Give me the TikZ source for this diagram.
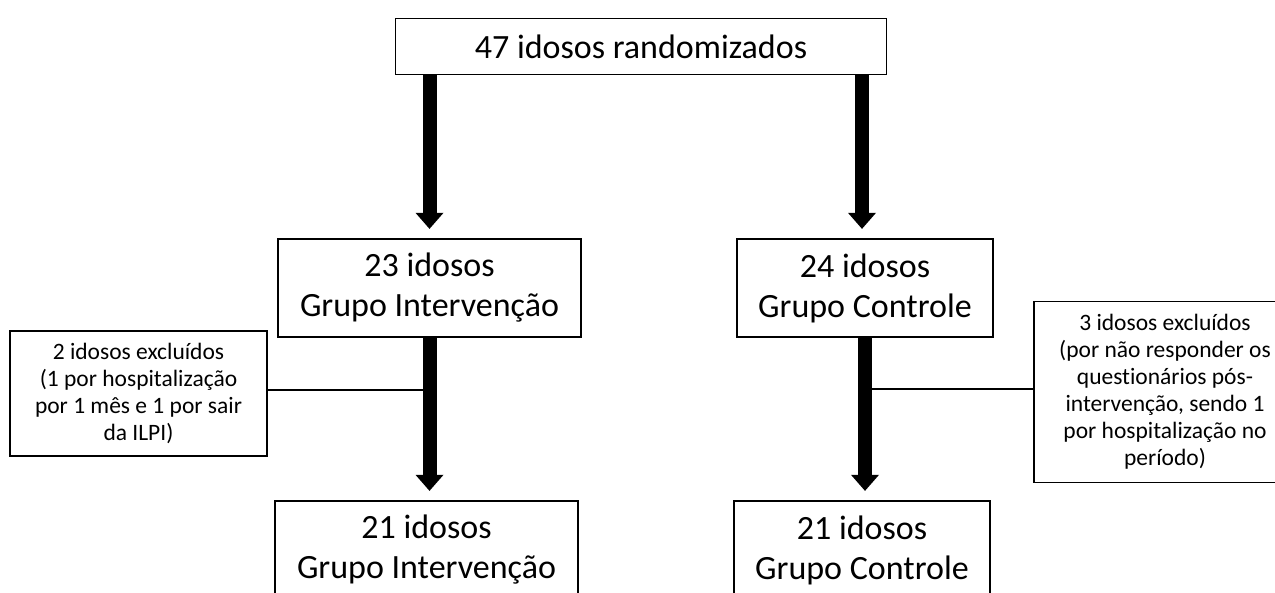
\documentclass[tikz,border=0pt]{standalone}
\usepackage{fontspec}
\setmainfont[Ligatures={NoCommon}]{Carlito}
\usetikzlibrary{arrows.meta}
\tikzset{
  box/.style={draw=black, line width=1.3pt, fill=white, rectangle, inner sep=0pt, align=center, anchor=center},
  bigbox/.style={box, font=\fontsize{34pt}{40pt}\selectfont},
  smallbox/.style={box, font=\fontsize{23.5pt}{27pt}\selectfont},
  bigarrow/.style={line width=14pt, -{Triangle[width=28pt,length=16pt,line width=0pt]}, shorten >=9.5pt},
  thinline/.style={line width=1.3pt}
}
\begin{document}
\begin{tikzpicture}[x=1pt,y=-1pt]
\useasboundingbox (0,0) rectangle (1275,592);
\fill[white] (0,0) rectangle (1275,592);
\node[bigbox, minimum width=491pt, minimum height=56pt] (top) at (641,46.5) {47 idosos randomizados};
\node[bigbox, minimum width=303pt, minimum height=98pt] (mL) at (429.5,288) {23 idosos\\Grupo Intervenção};
\node[bigbox, minimum width=256pt, minimum height=98pt] (mR) at (865,288) {24 idosos\\Grupo Controle};
\node[bigbox, minimum width=303pt, minimum height=98pt] (bL) at (426.5,550) {21 idosos\\Grupo Intervenção};
\node[bigbox, minimum width=256pt, minimum height=98pt] (bR) at (862,550) {21 idosos\\Grupo Controle};
\node[smallbox, minimum width=257pt, minimum height=125pt] (exL) at (138.5,393.5) {2 idosos excluídos\\(1 por hospitalização\\por 1 mês e 1 por sair\\da ILPI)};
\node[smallbox, minimum width=262pt, minimum height=181pt] (exR) at (1165,392) {3 idosos excluídos\\(por não responder os\\questionários pós-\\intervenção, sendo 1\\por hospitalização no\\período)};
\draw[bigarrow] (top.south -| mL.north) -- (mL.north);
\draw[bigarrow] ([xshift=-3pt]top.south -| mR.north) -- ([xshift=-3pt]mR.north);
\draw[bigarrow] (mL.south) -- (bL.north -| mL.south);
\draw[bigarrow] (mR.south) -- (bR.north -| mR.south);
\draw[thinline] ([yshift=3.5pt]exL.east) -- ([yshift=3.5pt]exL.east -| mL.south);
\draw[thinline] ([yshift=3pt]exR.west) -- ([yshift=3pt]exR.west -| mR.south);
\end{tikzpicture}
\end{document}
